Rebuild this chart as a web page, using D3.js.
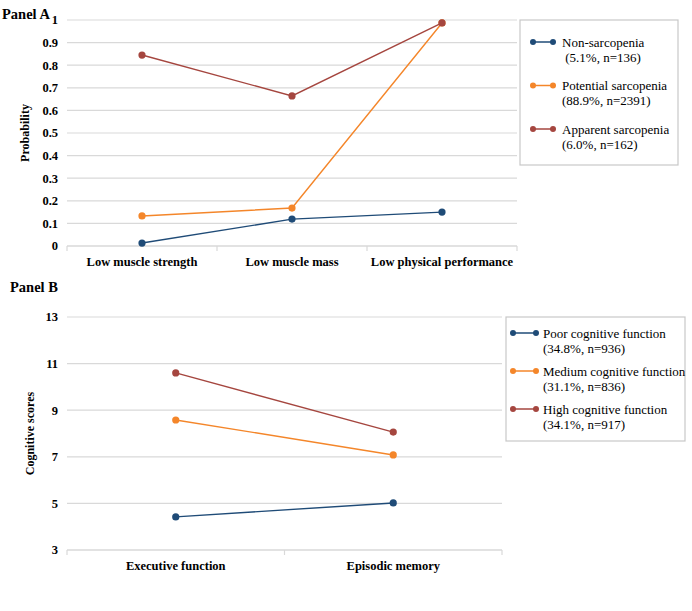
<!DOCTYPE html>
<html><head><meta charset="utf-8">
<script src="https://cdn.jsdelivr.net/npm/d3@7"></script>
<style>
body{margin:0;background:#fff;}
</style></head>
<body><svg id="c" width="692" height="611" font-family="'Liberation Serif', 'DejaVu Serif', 'Times New Roman', serif"></svg>
<script>
// Panel A data
const catsA = ["Low muscle strength","Low muscle mass","Low physical performance"];
const ticksA = [0,0.1,0.2,0.3,0.4,0.5,0.6,0.7,0.8,0.9,1];
const nonSarc = [0.013,0.119,0.150];
const potSarc = [0.133,0.168,0.987];
const appSarc = [0.845,0.664,0.987];
const namesA = ["Non-sarcopenia","Potential sarcopenia","Apparent sarcopenia"];
const subA = [" (5.1%, n=136)","(88.9%, n=2391)","(6.0%, n=162)"];
// Panel B data
const catsB = ["Executive function","Episodic memory"];
const ticksB = [3,5,7,9,11,13];
const poorCog = [4.42,5.02];
const medCog = [8.58,7.08];
const highCog = [10.6,8.06];
const namesB = ["Poor cognitive function","Medium cognitive function","High cognitive function"];
const subB = ["(34.8%, n=936)","(31.1%, n=836)","(34.1%, n=917)"];
const colors = ["#1f4b77","#f4862a","#a5463f"];

const svg = d3.select("#c");
const grid = "#d9d9d9";
const FF = "'Liberation Serif', 'DejaVu Serif', 'Times New Roman', serif";

function panel(o){
  const g = svg.append("g").attr("font-family",FF);
  const x = d3.scaleBand().domain(o.cats).range([o.x0,o.x1]);
  const y = d3.scaleLinear().domain(o.dom).range([o.y0,o.y1]);
  g.selectAll(".gl").data(o.ticks).join("line")
    .attr("x1",o.x0).attr("x2",o.x1)
    .attr("y1",d=>y(d)).attr("y2",d=>y(d))
    .attr("stroke",grid).attr("stroke-width",d=>d===o.dom[0]?1.5:1.2);
  const bounds = o.cats.map(c=>x(c)).concat([o.x1]);
  g.selectAll(".tm").data(bounds).join("line")
    .attr("x1",d=>d).attr("x2",d=>d).attr("y1",o.y0).attr("y2",o.y0+5)
    .attr("stroke",grid).attr("stroke-width",1.2);
  g.selectAll(".yl").data(o.ticks).join("text")
    .attr("x",o.x0-9).attr("y",d=>y(d)).attr("dy","0.35em")
    .attr("text-anchor","end").attr("font-size",12.5).attr("font-weight","bold")
    .text(d=>o.fmt(d));
  g.selectAll(".xl").data(o.cats).join("text")
    .attr("x",d=>x(d)+x.bandwidth()/2).attr("y",o.y0+20)
    .attr("text-anchor","middle").attr("font-size",12.5).attr("font-weight","bold")
    .text(d=>d);
  g.append("text").attr("transform",`translate(${o.ytx},${(o.y0+o.y1)/2}) rotate(-90)`)
    .attr("text-anchor","middle").attr("font-size",12).attr("font-weight","bold").attr("dy","0.35em")
    .text(o.ytitle);
  const line = d3.line().x((d,i)=>x(o.cats[i])+x.bandwidth()/2).y(d=>y(d));
  o.series.forEach((s,k)=>{
    g.append("path").attr("d",line(s)).attr("fill","none").attr("stroke",colors[k]).attr("stroke-width",1.4);
    g.selectAll(null).data(s).join("circle")
      .attr("cx",(d,i)=>x(o.cats[i])+x.bandwidth()/2).attr("cy",d=>y(d)).attr("r",3.6)
      .attr("fill",colors[k]);
  });
  g.append("text").attr("x",o.tx).attr("y",o.ty).attr("font-size",14.5).attr("font-weight","bold").text(o.title);
  const L = o.leg;
  g.append("rect").attr("x",L.x).attr("y",L.y).attr("width",L.w).attr("height",L.h)
    .attr("fill","#fff").attr("stroke","#c8c8c8").attr("stroke-width",1.2);
  o.names.forEach((n,k)=>{
    const yy = L.first + k*L.step;
    g.append("line").attr("x1",L.mx0).attr("x2",L.mx1).attr("y1",yy).attr("y2",yy)
      .attr("stroke",colors[k]).attr("stroke-width",1.5);
    g.append("circle").attr("cx",L.mx0).attr("cy",yy).attr("r",3).attr("fill",colors[k]);
    g.append("circle").attr("cx",L.mx1).attr("cy",yy).attr("r",3).attr("fill",colors[k]);
    g.append("text").attr("x",L.tx).attr("y",yy).attr("dy","0.35em").attr("font-size",13).text(n);
    g.append("text").attr("x",L.tx).attr("y",yy+15).attr("dy","0.35em").attr("font-size",13)
      .attr("xml:space","preserve").style("white-space","pre").text(o.subs[k]);
  });
}

panel({cats:catsA, ticks:ticksA, dom:[0,1], x0:67, x1:517, y0:246, y1:20,
  fmt:d=>d===0?"0":(d===1?"1":d3.format(".1f")(d)),
  series:[nonSarc,potSarc,appSarc], ytitle:"Probability", ytx:25,
  title:"Panel A", tx:2, ty:19, names:namesA, subs:subA,
  leg:{x:520,y:20,w:158,h:145,first:42,step:43.5,mx0:533,mx1:553,tx:562}});

panel({cats:catsB, ticks:ticksB, dom:[3,13], x0:67, x1:502, y0:550, y1:317,
  fmt:d=>String(d),
  series:[poorCog,medCog,highCog], ytitle:"Cognitive scores", ytx:30,
  title:"Panel B", tx:10, ty:292, names:namesB, subs:subB,
  leg:{x:506,y:317,w:179,h:124,first:333,step:38,mx0:513,mx1:536,tx:543}});
</script></body></html>
